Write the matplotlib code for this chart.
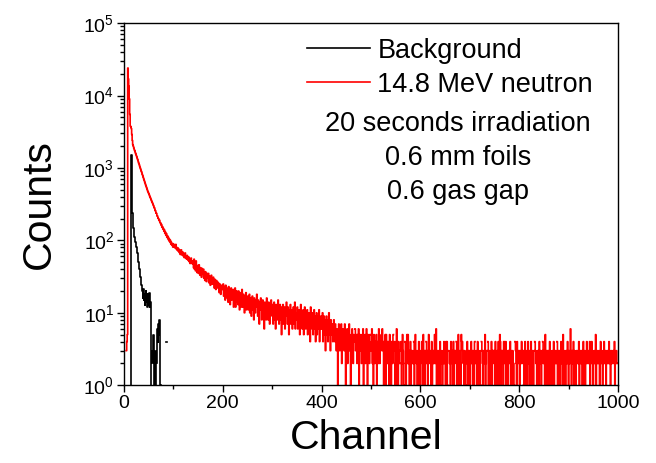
import matplotlib.pyplot as plt
import numpy as np
from matplotlib.ticker import MultipleLocator, LogLocator, NullFormatter

plt.rcParams['font.family'] = ['Liberation Sans', 'DejaVu Sans']

# background run, channels 0-99 (nothing above channel 90)
bg_counts = [
    0, 0, 0, 0, 0, 0, 0, 0, 0, 0,
    0, 0, 0, 0, 1, 1500, 1350, 240, 175, 150,
    125, 112, 100, 94, 87, 80, 74, 66, 58, 50,
    44, 40, 35, 31, 27, 24, 22, 20, 19, 16,
    21, 15, 18, 13, 17, 20, 14, 16, 12, 18,
    15, 13, 19, 12, 14, 1, 0, 3, 2, 3,
    5, 2, 1, 2, 3, 1, 0, 2, 6, 4,
    7, 5, 8, 6, 1, 0, 0, 0, 0, 0,
    0, 0, 0, 0, 0, 0, 4, 4, 0, 0,
    0, 0, 0, 0, 0, 0, 0, 0, 0, 0,
]

# 14.8 MeV neutron run, channels 0-99
neutron_head = [
    0, 0, 0, 0, 0, 3, 4, 5, 24000, 17000,
    13500, 9000, 5500, 3800, 3700, 3500, 2900, 2400, 2100, 2000,
    1880, 1790, 1720, 1630, 1560, 1490, 1420, 1350, 1290, 1220,
    1160, 1110, 1050, 1000, 955, 905, 870, 820, 785, 745,
    705, 675, 640, 610, 580, 555, 530, 505, 480, 465,
    445, 430, 410, 395, 380, 365, 350, 338, 325, 312,
    300, 284, 279, 259, 255, 238, 236, 219, 216, 202,
    200, 188, 190, 176, 175, 163, 166, 152, 155, 143,
    146, 134, 139, 125, 130, 118, 124, 111, 116, 105,
    110, 99, 104, 95, 100, 89, 94, 86, 90, 81,
]

# channels 100-419
neutron_mid = [
    90, 81, 86, 79, 84, 88, 76, 80, 73, 79,
    71, 76, 68, 73, 64, 70, 74, 63, 67, 69,
    61, 66, 58, 63, 67, 57, 60, 55, 62, 58,
    53, 59, 51, 56, 48, 54, 57, 49, 52, 47,
    50, 42, 55, 40, 47, 38, 52, 44, 36, 45,
    43, 35, 46, 40, 33, 42, 39, 31, 41, 37,
    34, 40, 30, 36, 28, 37, 34, 27, 35, 32,
    30, 35, 26, 32, 29, 24, 31, 33, 25, 29,
    25, 31, 27, 22, 29, 26, 21, 28, 25, 27,
    22, 26, 24, 19, 25, 23, 18, 24, 22, 21,
    21, 25, 17, 23, 20, 15, 24, 19, 22, 16,
    20, 14, 23, 18, 21, 13, 19, 22, 15, 20,
    17, 21, 12, 19, 16, 22, 12, 18, 20, 14,
    18, 13, 20, 16, 11, 19, 14, 17, 12, 21,
    16, 12, 18, 15, 10, 17, 13, 19, 11, 16,
    14, 17, 11, 15, 18, 10, 16, 13, 9, 15,
    17, 11, 14, 8, 16, 13, 10, 15, 12, 18,
    13, 9, 15, 12, 7, 14, 11, 16, 13, 8,
    12, 15, 9, 13, 6, 14, 11, 12, 8, 16,
    11, 13, 8, 14, 12, 7, 13, 9, 15, 11,
    10, 13, 7, 12, 14, 8, 11, 6, 13, 10,
    12, 8, 15, 10, 7, 11, 13, 8, 12, 5,
    11, 8, 13, 7, 10, 12, 6, 11, 9, 14,
    10, 7, 12, 9, 5, 11, 10, 13, 7, 9,
    11, 6, 10, 12, 7, 9, 14, 6, 10, 8,
    9, 12, 6, 10, 7, 11, 5, 9, 13, 7,
    10, 6, 9, 11, 5, 8, 12, 9, 6, 10,
    8, 11, 5, 9, 10, 6, 9, 4, 12, 8,
    9, 6, 10, 5, 8, 11, 6, 9, 4, 8,
    10, 5, 8, 9, 6, 11, 4, 8, 6, 9,
    6, 8, 10, 4, 7, 9, 5, 8, 3, 7,
    9, 5, 7, 4, 8, 10, 5, 7, 3, 8,
]

# channels 420-999, one digit per channel
neutron_tail = [
    "65746 85475 36514 75364",
    "72564 53741 53624 57341",
    "54632 54063 54253 61453",
    "42536 14352 46315 34250",
    "34623 15324 35134 26324",
    "35463 41325 15242 34152",
    "21432 50341 23613 14320",
    "34125 32104 21352 52313",
    "41323 20413 53221 31422",
    "13342 15231 30423 12532",
    "32141 23025 42613 22312",
    "41320 13242 31424 10332",
    "21432 31413 23041 23512",
    "32154 43231 32102 41323",
    "13242 31321 40232 14321",
    "23104 32132 25123 30412",
    "31224 13032 31432 12341",
    "25413 20314 42241 32130",
    "32412 31322 10432 14223",
    "31322 42301 32413 22142",
    "23124 31321 30432 21323",
    "14232 13042 32152 23131",
    "32413 22132 41323 20412",
    "32312 42215 32131 23242",
    "13226 31232 41322 13232",
    "24132 32312 42131 22432",
    "32241 32432 12322 51223",
    "22312 43221 32422 31232",
    "32423 12322 33241 22322",
]

tail_values = [int(c) for row in neutron_tail for c in row.replace(" ", "")]
neutron_counts = np.array(neutron_head + neutron_mid + tail_values, dtype=float)
bg = np.array(bg_counts, dtype=float)

# empty channels can't go on a log axis, leave gaps there
neutron_y = np.where(neutron_counts > 0, neutron_counts, np.nan)
bg_y = np.where(bg > 0, bg, np.nan)

fig = plt.figure(figsize=(6.56, 4.63), dpi=100)
ax = fig.add_axes([0.189, 0.168, 0.753, 0.782])

bg_line, = ax.plot(np.arange(len(bg)), bg_y, color='black', lw=1.2,
                   drawstyle='steps-mid')
n_line, = ax.plot(np.arange(len(neutron_counts)), neutron_y, color='red',
                  lw=1.2, drawstyle='steps-mid')

ax.set_yscale('log')
ax.set_ylim(1, 1e5)
ax.set_xlim(0, 1000)
ax.xaxis.set_major_locator(MultipleLocator(200))
ax.xaxis.set_minor_locator(MultipleLocator(100))
ax.yaxis.set_major_locator(LogLocator(base=10, numticks=10))
ax.yaxis.set_minor_locator(LogLocator(base=10, subs=np.arange(2, 10), numticks=20))
ax.yaxis.set_minor_formatter(NullFormatter())

ax.tick_params(which='both', direction='out', top=False, right=False,
               labelsize=14, width=1.0)
ax.tick_params(which='major', length=5, pad=2)
ax.tick_params(which='minor', length=3)
for s in ax.spines.values():
    s.set_linewidth(1.0)

ax.set_xlabel('Channel', fontsize=29.5)
ax.xaxis.set_label_coords(0.49, -0.094, transform=ax.transAxes)
ax.xaxis.label.set_va('top')
ax.set_ylabel('Counts', fontsize=29.5, labelpad=18)

ax.legend([bg_line, n_line], ['Background', '14.8 MeV neutron'],
          loc='upper left', bbox_to_anchor=(0.349, 0.99), frameon=False,
          fontsize=19.5, handlelength=2.33, handletextpad=0.26,
          labelspacing=0.3, borderaxespad=0)

notes = ['20 seconds irradiation', '0.6 mm foils', '0.6 gas gap']
for i, note in enumerate(notes):
    ax.text(0.676, 0.721 - 0.094 * i, note, transform=ax.transAxes,
            ha='center', va='center', fontsize=19.5)

fig.savefig('out.png', dpi=100)
